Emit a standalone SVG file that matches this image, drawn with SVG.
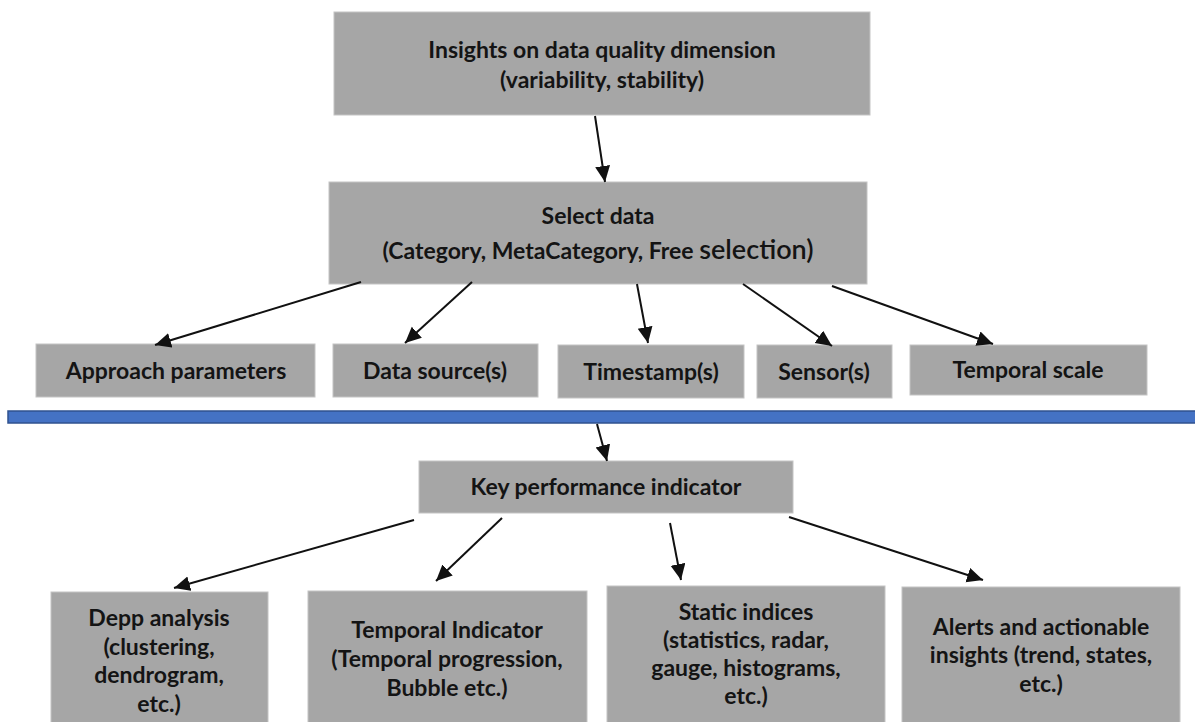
<svg xmlns="http://www.w3.org/2000/svg" width="1195" height="722" viewBox="0 0 1195 722">
<defs>
<marker id="ah" markerUnits="userSpaceOnUse" markerWidth="18" markerHeight="16" refX="16" refY="7.5" orient="auto">
<path d="M0,0 L16,7.5 L0,15 z" fill="#111"/>
</marker>
<style>
.box{fill:#a6a6a6;stroke:#c4c4c4;stroke-width:1}
.t{font-family:Lato,"Liberation Sans",sans-serif;font-weight:700;font-size:23px;fill:#141414;text-anchor:middle}
.c{stroke:#111;stroke-width:2;fill:none;marker-end:url(#ah)}
</style>
</defs>
<rect width="1195" height="722" fill="#fff"/>
<g id="insights">
<rect class="box" x="334" y="12" width="536" height="103"/>
<text class="t" x="602" y="58">Insights on data quality dimension</text>
<text class="t" x="602" y="88">(variability, stability)</text>
</g>
<g id="select">
<rect class="box" x="329" y="182" width="538" height="102"/>
<text class="t" x="598" y="224">Select data</text>
<text class="t" x="598" y="259">(Category, MetaCategory, Free <tspan font-size="27" font-weight="600">selection)</tspan></text>
</g>
<g id="approach">
<rect class="box" x="36" y="344" width="279" height="53"/>
<text class="t" x="176" y="379">Approach parameters</text>
</g>
<g id="datasource">
<rect class="box" x="333" y="344" width="205" height="53"/>
<text class="t" x="435" y="379">Data source(s)</text>
</g>
<g id="timestamp">
<rect class="box" x="558" y="345" width="186" height="53"/>
<text class="t" x="651" y="380">Timestamp(s)</text>
</g>
<g id="sensor">
<rect class="box" x="757" y="345" width="135" height="53"/>
<text class="t" x="824" y="380">Sensor(s)</text>
</g>
<g id="temporalscale">
<rect class="box" x="910" y="345" width="237" height="50"/>
<text class="t" x="1028" y="378">Temporal scale</text>
</g>
<g id="separator">
<rect x="8" y="411" width="1190" height="12" fill="#4472c4" stroke="#2f528f" stroke-width="1.5"/>
</g>
<g id="kpi">
<rect class="box" x="419" y="461" width="374" height="52"/>
<text class="t" x="606" y="495">Key performance indicator</text>
</g>
<g id="depp">
<rect class="box" x="51" y="592" width="217" height="135"/>
<text class="t" x="159" y="626">Depp analysis</text>
<text class="t" x="159" y="655">(clustering,</text>
<text class="t" x="159" y="683">dendrogram,</text>
<text class="t" x="159" y="712">etc.)</text>
</g>
<g id="temporalindicator">
<rect class="box" x="308" y="591" width="279" height="136"/>
<text class="t" x="447" y="638">Temporal Indicator</text>
<text class="t" x="447" y="667">(Temporal progression,</text>
<text class="t" x="447" y="696">Bubble etc.)</text>
</g>
<g id="static">
<rect class="box" x="607" y="586" width="278" height="141"/>
<text class="t" x="746" y="620">Static indices</text>
<text class="t" x="746" y="648">(statistics, radar,</text>
<text class="t" x="746" y="676">gauge, histograms,</text>
<text class="t" x="746" y="704">etc.)</text>
</g>
<g id="alerts">
<rect class="box" x="902" y="587" width="278" height="140"/>
<text class="t" x="1041" y="635">Alerts and actionable</text>
<text class="t" x="1041" y="663">insights (trend, states,</text>
<text class="t" x="1041" y="692">etc.)</text>
</g>
<g id="connectors">
<line class="c" x1="595" y1="116" x2="605" y2="182"/>
<line class="c" x1="361" y1="282" x2="155" y2="345"/>
<line class="c" x1="472" y1="282" x2="405" y2="343"/>
<line class="c" x1="637" y1="284" x2="648" y2="343"/>
<line class="c" x1="743" y1="284" x2="832" y2="346"/>
<line class="c" x1="832" y1="286" x2="993" y2="344"/>
<line class="c" x1="597" y1="424" x2="607" y2="461"/>
<line class="c" x1="414" y1="520" x2="174" y2="588"/>
<line class="c" x1="502" y1="518" x2="436" y2="581"/>
<line class="c" x1="670" y1="523" x2="681" y2="580"/>
<line class="c" x1="789" y1="517" x2="983" y2="580"/>
</g>
</svg>
